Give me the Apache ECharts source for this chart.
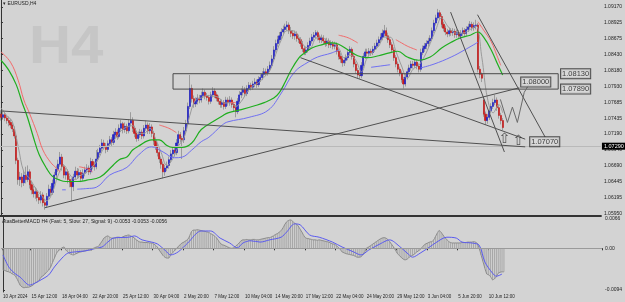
<!DOCTYPE html>
<html>
<head>
<meta charset="utf-8">
<script src="https://cdn.jsdelivr.net/npm/echarts@6/dist/echarts.min.js"></script>
<style>
html,body{margin:0;padding:0;background:#d3d3d3;}
#chart{width:625px;height:302px;}
</style>
</head>
<body>
<div id="chart"></div>
<script>
// bar slots on the time axis (last ~50 are the empty chart shift)
var SLOTS = 315;

var dateTickIdx = [0, 15, 31, 47, 63, 79, 95, 111, 127, 143, 159, 175, 191, 207, 223, 239, 255];
var dateTickText = ['10 Apr 2024', '15 Apr 12:00', '18 Apr 04:00', '22 Apr 20:00', '25 Apr 12:00', '30 Apr 04:00',
  '2 May 20:00', '7 May 12:00', '10 May 04:00', '14 May 20:00', '17 May 12:00', '22 May 04:00',
  '24 May 20:00', '29 May 12:00', '3 Jun 04:00', '5 Jun 20:00', '10 Jun 12:00'];

var priceTicks = [1.09170, 1.08925, 1.08675, 1.08430, 1.08180, 1.07930, 1.07685, 1.07435, 1.07190,
  1.06940, 1.06690, 1.06445, 1.06195, 1.05950];
var macdTicks = [0.0066, 0, -0.0094];
var macdTickText = ['0.0066', '0.00', '-0.0094'];
var lastPrice = 1.07290;

// H4 candles, one row per trading day (6 bars)
var firstOpen = 1.0750;
var gapOpens = {253: 1.0772};
var closes = [
1.0745,1.0749,1.0744,1.0740,1.0737,1.0733,
1.0727,1.0716,1.0678,1.0648,1.0652,1.0643,
1.0655,1.0648,1.0660,1.0640,1.0632,1.0626,
1.0629,1.0620,1.0616,1.0624,1.0612,1.0608,
1.0622,1.0633,1.0628,1.0642,1.0655,1.0664,
1.0672,1.0683,1.0668,1.0655,1.0660,1.0648,
1.0644,1.0637,1.0652,1.0661,1.0655,1.0659,
1.0650,1.0658,1.0663,1.0666,1.0660,1.0676,
1.0670,1.0668,1.0680,1.0690,1.0697,1.0705,
1.0700,1.0695,1.0704,1.0710,1.0706,1.0718,
1.0722,1.0715,1.0728,1.0735,1.0726,1.0731,
1.0724,1.0736,1.0740,1.0728,1.0720,1.0712,
1.0718,1.0722,1.0716,1.0728,1.0733,1.0724,
1.0730,1.0720,1.0708,1.0700,1.0690,1.0680,
1.0672,1.0660,1.0666,1.0670,1.0679,1.0688,
1.0694,1.0690,1.0705,1.0718,1.0712,1.0710,
1.0724,1.0735,1.0762,1.0790,1.0774,1.0766,
1.0770,1.0775,1.0772,1.0779,1.0784,1.0778,
1.0776,1.0770,1.0780,1.0786,1.0780,1.0775,
1.0770,1.0765,1.0768,1.0762,1.0772,1.0768,
1.0772,1.0765,1.0760,1.0754,1.0770,1.0780,
1.0784,1.0788,1.0782,1.0790,1.0795,1.0792,
1.0797,1.0800,1.0796,1.0804,1.0807,1.0812,
1.0816,1.0814,1.0820,1.0826,1.0836,1.0850,
1.0860,1.0866,1.0872,1.0878,1.0882,1.0886,
1.0889,1.0880,1.0876,1.0872,1.0875,1.0868,
1.0866,1.0860,1.0852,1.0846,1.0850,1.0857,
1.0864,1.0870,1.0873,1.0877,1.0870,1.0866,
1.0869,1.0864,1.0860,1.0864,1.0858,1.0860,
1.0856,1.0858,1.0848,1.0840,1.0836,1.0830,
1.0834,1.0838,1.0846,1.0851,1.0840,1.0828,
1.0818,1.0811,1.0810,1.0826,1.0840,1.0847,
1.0845,1.0848,1.0846,1.0851,1.0856,1.0861,
1.0866,1.0870,1.0876,1.0880,1.0872,1.0866,
1.0858,1.0850,1.0838,1.0828,1.0820,1.0814,
1.0804,1.0797,1.0808,1.0816,1.0822,1.0828,
1.0826,1.0831,1.0825,1.0820,1.0846,1.0852,
1.0856,1.0860,1.0864,1.0868,1.0880,1.0892,
1.0900,1.0908,1.0902,1.0890,1.0884,1.0878,
1.0875,1.0880,1.0877,1.0879,1.0874,1.0877,
1.0872,1.0876,1.0880,1.0876,1.0882,1.0886,
1.0890,1.0885,1.0888,1.0889,1.0820,1.0812,
1.0806,1.0750,1.0740,1.0745,1.0755,1.0762,
1.0768,1.0772,1.0760,1.0748,1.0740,1.0729
];
var highs = [
1.0756,1.0755,1.0753,1.0748,1.0746,1.0743,
1.0738,1.0731,1.0720,1.0682,1.0660,1.0658,
1.0662,1.0668,1.0670,1.0664,1.0645,1.0638,
1.0636,1.0634,1.0626,1.0630,1.0628,1.0618,
1.0627,1.0640,1.0638,1.0648,1.0660,1.0670,
1.0679,1.0691,1.0688,1.0672,1.0666,1.0664,
1.0654,1.0650,1.0657,1.0668,1.0666,1.0665,
1.0663,1.0664,1.0668,1.0672,1.0670,1.0682,
1.0680,1.0676,1.0694,1.0696,1.0702,1.0711,
1.0710,1.0705,1.0709,1.0716,1.0714,1.0724,
1.0728,1.0726,1.0734,1.0741,1.0738,1.0737,
1.0735,1.0742,1.0753,1.0745,1.0732,1.0724,
1.0723,1.0727,1.0726,1.0733,1.0740,1.0737,
1.0736,1.0734,1.0724,1.0712,1.0704,1.0694,
1.0684,1.0676,1.0671,1.0676,1.0684,1.0694,
1.0700,1.0700,1.0711,1.0724,1.0722,1.0716,
1.0730,1.0741,1.0768,1.0811,1.0796,1.0779,
1.0776,1.0781,1.0780,1.0785,1.0790,1.0788,
1.0783,1.0780,1.0785,1.0792,1.0790,1.0784,
1.0779,1.0774,1.0773,1.0772,1.0777,1.0776,
1.0778,1.0776,1.0769,1.0764,1.0775,1.0786,
1.0790,1.0794,1.0792,1.0795,1.0800,1.0799,
1.0802,1.0806,1.0804,1.0809,1.0812,1.0817,
1.0822,1.0821,1.0825,1.0832,1.0842,1.0856,
1.0866,1.0872,1.0878,1.0884,1.0888,1.0891,
1.0895,1.0893,1.0886,1.0881,1.0880,1.0879,
1.0874,1.0870,1.0864,1.0856,1.0855,1.0862,
1.0869,1.0875,1.0878,1.0881,1.0880,1.0874,
1.0874,1.0873,1.0868,1.0869,1.0868,1.0865,
1.0864,1.0863,1.0862,1.0852,1.0845,1.0840,
1.0839,1.0843,1.0851,1.0856,1.0854,1.0844,
1.0832,1.0822,1.0816,1.0831,1.0845,1.0852,
1.0852,1.0853,1.0852,1.0856,1.0861,1.0866,
1.0871,1.0876,1.0882,1.0889,1.0885,1.0877,
1.0870,1.0862,1.0854,1.0842,1.0832,1.0824,
1.0818,1.0808,1.0813,1.0821,1.0827,1.0833,
1.0833,1.0836,1.0835,1.0829,1.0852,1.0857,
1.0861,1.0865,1.0869,1.0873,1.0885,1.0897,
1.0905,1.0914,1.0912,1.0906,1.0894,1.0888,
1.0883,1.0885,1.0884,1.0884,1.0883,1.0882,
1.0881,1.0881,1.0885,1.0884,1.0887,1.0891,
1.0895,1.0894,1.0893,1.0897,1.0892,1.0825,
1.0815,1.0776,1.0754,1.0750,1.0760,1.0767,
1.0774,1.0780,1.0776,1.0764,1.0752,1.0744
];
var lows = [
1.0740,1.0741,1.0739,1.0735,1.0731,1.0728,
1.0722,1.0712,1.0672,1.0640,1.0638,1.0636,
1.0638,1.0642,1.0644,1.0634,1.0625,1.0620,
1.0618,1.0614,1.0610,1.0611,1.0606,1.0601,
1.0604,1.0618,1.0622,1.0624,1.0638,1.0650,
1.0660,1.0668,1.0662,1.0650,1.0648,1.0642,
1.0636,1.0614,1.0630,1.0648,1.0650,1.0650,
1.0644,1.0646,1.0653,1.0658,1.0655,1.0656,
1.0664,1.0662,1.0664,1.0676,1.0686,1.0692,
1.0695,1.0689,1.0691,1.0700,1.0700,1.0702,
1.0713,1.0710,1.0712,1.0724,1.0720,1.0721,
1.0719,1.0720,1.0731,1.0722,1.0714,1.0707,
1.0708,1.0713,1.0711,1.0712,1.0724,1.0719,
1.0719,1.0714,1.0702,1.0694,1.0684,1.0674,
1.0665,1.0650,1.0654,1.0661,1.0665,1.0674,
1.0683,1.0684,1.0686,1.0700,1.0706,1.0680,
1.0705,1.0720,1.0731,1.0758,1.0768,1.0760,
1.0761,1.0765,1.0767,1.0768,1.0775,1.0773,
1.0771,1.0765,1.0766,1.0776,1.0775,1.0770,
1.0765,1.0760,1.0760,1.0757,1.0758,1.0763,
1.0763,1.0760,1.0754,1.0745,1.0750,1.0766,
1.0775,1.0779,1.0777,1.0778,1.0785,1.0787,
1.0788,1.0792,1.0791,1.0792,1.0800,1.0803,
1.0808,1.0809,1.0810,1.0816,1.0822,1.0832,
1.0846,1.0855,1.0861,1.0867,1.0873,1.0877,
1.0880,1.0875,1.0870,1.0867,1.0866,1.0863,
1.0861,1.0855,1.0847,1.0842,1.0842,1.0846,
1.0853,1.0860,1.0865,1.0868,1.0865,1.0861,
1.0861,1.0859,1.0855,1.0856,1.0853,1.0853,
1.0851,1.0851,1.0843,1.0835,1.0830,1.0824,
1.0825,1.0829,1.0834,1.0842,1.0835,1.0823,
1.0813,1.0806,1.0805,1.0806,1.0822,1.0836,
1.0840,1.0840,1.0841,1.0842,1.0847,1.0851,
1.0856,1.0861,1.0865,1.0871,1.0867,1.0861,
1.0853,1.0845,1.0833,1.0823,1.0815,1.0809,
1.0799,1.0790,1.0793,1.0804,1.0812,1.0818,
1.0821,1.0822,1.0820,1.0815,1.0816,1.0842,
1.0847,1.0851,1.0855,1.0859,1.0864,1.0876,
1.0888,1.0896,1.0897,1.0885,1.0879,1.0873,
1.0870,1.0871,1.0872,1.0872,1.0869,1.0869,
1.0867,1.0868,1.0872,1.0871,1.0872,1.0878,
1.0882,1.0880,1.0880,1.0882,1.0815,1.0806,
1.0800,1.0746,1.0733,1.0735,1.0741,1.0751,
1.0758,1.0764,1.0755,1.0743,1.0734,1.0725
];

// indicator lines as [bar, price] points
var greenMA = [[0,1.0834],[4,1.0819],[8,1.0796],[11,1.0769],[14,1.0744],[17,1.0714],[20,1.0687],[24,1.0665],
  [27,1.0653],[31,1.0647],[34,1.0645],[40,1.0645],[45,1.0647],[52,1.0652],[58,1.0668],[62,1.0679],[66,1.0683],
  [69,1.0694],[72,1.0700],[79,1.0710],[83,1.0710],[87,1.0701],[90,1.0698],[95,1.0698],[100,1.0705],[105,1.0726],
  [111,1.0738],[116,1.0747],[119,1.0752],[126,1.0757],[133,1.0763],[138,1.0768],[143,1.0775],[146,1.0784],
  [149,1.0800],[152,1.0818],[156,1.0837],[159,1.0845],[163,1.0853],[168,1.0858],[173,1.0861],[177,1.0859],
  [182,1.0850],[187,1.0841],[192,1.0838],[198,1.0841],[203,1.0845],[208,1.0848],[213,1.0839],[219,1.0834],
  [225,1.0839],[231,1.0853],[236,1.0862],[241,1.0869],[246,1.0873],[250,1.0878],[253,1.0870],[257,1.0850],
  [260,1.0830],[263,1.0811]];
var redMA = [
  [[0,1.0847],[5,1.0831],[9,1.0803],[12,1.0772],[15,1.0751],[19,1.0720],[22,1.0694],[26,1.0675],[29,1.0666],[31,1.0660]],
  [[41,1.0668],[45,1.0665],[48,1.0660]],
  [[83,1.0733],[88,1.0728],[92,1.0721]],
  [[120,1.0768],[123,1.0768]],
  [[177,1.0873],[182,1.0869],[187,1.0861]],
  [[207,1.0866],[210,1.0861],[213,1.0856],[218,1.0850]],
  [[250,1.0894],[253,1.0881],[257,1.0863],[260,1.0841],[262,1.0826]]
];
var blueMA = [
  [[32,1.0632],[34,1.0632]],
  [[40,1.0633],[45,1.0634],[50,1.0636],[57,1.0655],[66,1.0667],[72,1.0686],[79,1.0699],[85,1.0691],[91,1.0682],
   [95,1.0683],[100,1.0694],[105,1.0707],[109,1.0714],[116,1.0733],[119,1.0738],[130,1.0745],[140,1.0756],
   [147,1.0783],[154,1.0816],[161,1.0831],[166,1.0839],[173,1.0845],[177,1.0850]],
  [[194,1.0823],[204,1.0827]],
  [[220,1.0822],[227,1.0828],[236,1.0839],[243,1.0850],[250,1.0862]]
];
var fastLine = [[0,1.0760],[3,1.0748],[6,1.0738],[9,1.0700],[12,1.0660],[15,1.0650],[18,1.0635],[21,1.0624],
  [24,1.0615],[27,1.0628],[30,1.0655],[33,1.0670],[36,1.0656],[39,1.0648],[42,1.0655],[45,1.0660],[48,1.0668],
  [51,1.0680],[54,1.0697],[57,1.0702],[60,1.0712],[63,1.0724],[66,1.0730],[69,1.0732],[72,1.0720],[75,1.0720],
  [78,1.0728],[81,1.0712],[84,1.0690],[87,1.0670],[90,1.0680],[93,1.0700],[96,1.0713],[99,1.0748],[102,1.0772],
  [105,1.0775],[108,1.0779],[111,1.0778],[114,1.0776],[117,1.0767],[120,1.0768],[123,1.0762],[126,1.0770],
  [129,1.0784],[132,1.0794],[135,1.0799],[138,1.0808],[141,1.0818],[144,1.0843],[147,1.0866],[150,1.0880],
  [153,1.0880],[156,1.0871],[159,1.0856],[162,1.0853],[165,1.0868],[168,1.0870],[171,1.0864],[174,1.0860],
  [177,1.0853],[180,1.0838],[183,1.0842],[186,1.0834],[189,1.0816],[192,1.0838],[195,1.0847],[198,1.0856],
  [201,1.0870],[204,1.0870],[207,1.0848],[210,1.0825],[213,1.0806],[216,1.0820],[219,1.0826],[222,1.0840],
  [225,1.0860],[228,1.0882],[231,1.0900],[234,1.0888],[237,1.0878],[240,1.0876],[243,1.0877],[246,1.0882],
  [249,1.0887],[252,1.0840],[255,1.0775],[258,1.0752],[261,1.0765],[263,1.0752]];

// drawn objects: trend lines, zone, projection
var trendLines = [
  [[0,1.0755],[274.8,1.0699]],
  [[22.9,1.0604],[271.7,1.0791]],
  [[157.0,1.0838],[274.8,1.0711]],
  [[235.7,1.0909],[263.9,1.0691]],
  [[249.8,1.0905],[285.3,1.0714]]
];
var zoneTop = 1.0813, zoneBottom = 1.0789, zoneFrom = 90.2, zoneTo = 292.1;
var projection = [[261.8,1.0773],[265.5,1.0737],[268.1,1.0761],[270.7,1.0737],[274.3,1.0784],[277.5,1.0800]];
var levelBoxes = [
  {at: [293.6, 1.0813], text: '1.08130'},
  {at: [293.6, 1.0789], text: '1.07890'},
  {at: [272.7, 1.0800], text: '1.08000'},
  {at: [277.4, 1.0707], text: '1.07070'}
];
var arrowMarks = [[263.9, 1.0711], [271.2, 1.0708]];

// MACD main per bar (drawn as histogram + grey line) and signal points
var macd = [
-0.0049,-0.0050,-0.0052,-0.0053,-0.0055,-0.0058,
-0.0060,-0.0066,-0.0074,-0.0083,-0.0087,-0.0089,
-0.0088,-0.0088,-0.0087,-0.0085,-0.0082,-0.0078,
-0.0076,-0.0072,-0.0065,-0.0062,-0.0058,-0.0053,
-0.0049,-0.0042,-0.0032,-0.0022,-0.0012,-0.0006,
-0.0002,0.0001,0.0003,-0.0004,-0.0008,-0.0012,
-0.0014,-0.0015,-0.0013,-0.0011,-0.0009,-0.0008,
-0.0007,-0.0006,-0.0005,-0.0004,-0.0004,-0.0001,
0.0001,0.0003,0.0004,0.0010,0.0016,0.0023,
0.0026,0.0028,0.0025,0.0023,0.0023,0.0024,
0.0025,0.0025,0.0024,0.0026,0.0028,0.0029,
0.0030,0.0028,0.0026,0.0023,0.0019,0.0016,
0.0014,0.0014,0.0013,0.0013,0.0013,0.0012,
0.0012,0.0010,0.0007,0.0003,-0.0004,-0.0010,
-0.0016,-0.0020,-0.0022,-0.0022,-0.0015,-0.0010,
-0.0006,-0.0001,0.0004,0.0008,0.0012,0.0014,
0.0017,0.0020,0.0028,0.0038,0.0041,0.0041,
0.0042,0.0041,0.0040,0.0039,0.0038,0.0037,
0.0036,0.0033,0.0031,0.0028,0.0024,0.0018,
0.0012,0.0008,0.0007,0.0005,0.0003,0.0001,
0.0000,0.0001,0.0004,0.0008,0.0012,0.0017,
0.0019,0.0019,0.0020,0.0019,0.0019,0.0020,
0.0020,0.0019,0.0019,0.0020,0.0021,0.0022,
0.0023,0.0024,0.0024,0.0026,0.0028,0.0031,
0.0033,0.0036,0.0040,0.0046,0.0054,0.0060,
0.0063,0.0064,0.0061,0.0057,0.0055,0.0050,
0.0043,0.0036,0.0028,0.0023,0.0022,0.0021,
0.0020,0.0019,0.0019,0.0018,0.0019,0.0018,
0.0017,0.0016,0.0015,0.0014,0.0012,0.0010,
0.0009,0.0006,0.0002,-0.0002,-0.0008,-0.0010,
-0.0012,-0.0013,-0.0014,-0.0015,-0.0016,-0.0018,
-0.0020,-0.0020,-0.0019,-0.0014,-0.0007,0.0001,
0.0003,0.0006,0.0009,0.0012,0.0015,0.0018,
0.0021,0.0023,0.0024,0.0023,0.0020,0.0015,
0.0009,0.0003,-0.0004,-0.0011,-0.0016,-0.0020,
-0.0024,-0.0026,-0.0025,-0.0021,-0.0018,-0.0016,
-0.0013,-0.0009,-0.0006,-0.0003,0.0002,0.0007,
0.0010,0.0012,0.0014,0.0015,0.0018,0.0026,
0.0034,0.0040,0.0036,0.0030,0.0024,0.0020,
0.0015,0.0013,0.0012,0.0012,0.0012,0.0012,
0.0012,0.0013,0.0013,0.0013,0.0014,0.0014,
0.0014,0.0015,0.0014,0.0011,0.0000,-0.0015,
-0.0030,-0.0045,-0.0058,-0.0060,-0.0064,-0.0071,
-0.0069,-0.0064,-0.0056,-0.0054,-0.0053,-0.0053
];
var signal = [[0,-0.0015],[3,-0.0042],[6,-0.0056],[9,-0.0065],[14,-0.0083],[17,-0.0078],[20,-0.0071],
  [24,-0.0060],[27,-0.0042],[31,-0.0022],[34,-0.0011],[38,-0.0008],[43,-0.0006],[48,-0.0001],[52,0.0003],
  [55,0.0014],[58,0.0023],[66,0.0025],[69,0.0028],[73,0.0019],[78,0.0014],[81,0.0010],[85,-0.0004],
  [88,-0.0015],[92,-0.0008],[97,0.0012],[104,0.0039],[109,0.0039],[114,0.0023],[119,0.0012],[123,0.0001],
  [126,0.0012],[130,0.0017],[135,0.0014],[140,0.0019],[146,0.0025],[149,0.0037],[153,0.0055],[156,0.0053],
  [161,0.0030],[166,0.0025],[173,0.0014],[178,0.0003],[184,-0.0008],[188,-0.0015],[192,-0.0004],[198,0.0010],
  [203,0.0019],[208,0.0005],[213,-0.0014],[215,-0.0020],[219,-0.0011],[224,0.0003],[227,0.0012],[233,0.0025],
  [238,0.0023],[241,0.0014],[246,0.0012],[250,0.0007],[253,-0.0031],[257,-0.0056],[259,-0.0063],[262,-0.0058]];

var chart = echarts.init(document.getElementById('chart'));

var slotCats = [];
for (var i = 0; i < SLOTS; i++) slotCats.push(String(i));
var dateText = {};
dateTickIdx.forEach(function (k, j) { dateText[k] = dateTickText[j]; });
var isDateTick = function (idx) { return dateText[idx] !== undefined; };

var opens = closes.map(function (c, i) {
  return i === 0 ? firstOpen : (gapOpens[i] !== undefined ? gapOpens[i] : closes[i - 1]);
});
// full bars for the grey wicks, body-only bars for the coloured bodies
var wickBars = closes.map(function (c, i) { return [opens[i], c, lows[i], highs[i]]; });
var bodyBars = closes.map(function (c, i) {
  return [opens[i], c, Math.min(opens[i], c), Math.max(opens[i], c)];
});

var axisFont = {fontSize: 5, color: '#1e1e1e', fontFamily: 'Liberation Sans'};

function lineSeries(data, color, width, xi, yi, smooth, z) {
  return {
    type: 'line', data: data, xAxisIndex: xi, yAxisIndex: yi, symbol: 'none', silent: true,
    smooth: smooth, z: z || 4, lineStyle: {color: color, width: width}
  };
}

var series = [];
series.push({
  type: 'candlestick', data: wickBars, xAxisIndex: 0, yAxisIndex: 0, barWidth: 0.6, z: 2,
  itemStyle: {color: '#8e8e8e', color0: '#8e8e8e', borderColor: '#8e8e8e', borderColor0: '#8e8e8e', borderWidth: 0.8},
  markLine: {
    silent: true, symbol: 'none', animation: false,
    lineStyle: {color: '#b9b9b9', width: 1, type: 'solid'},
    label: {position: 'end', distance: 1, formatter: lastPrice.toFixed(5), color: '#fff', backgroundColor: '#000',
      fontSize: 5.5, fontFamily: 'Liberation Sans', padding: [1, 2, 0, 2]},
    data: [{yAxis: lastPrice}]
  }
});
series.push({
  type: 'candlestick', data: bodyBars, xAxisIndex: 0, yAxisIndex: 0, barWidth: 1.6, z: 3,
  itemStyle: {color: '#2424c4', color0: '#c41e1e', borderColor: '#2424c4', borderColor0: '#c41e1e', borderWidth: 0.7}
});
series.push(lineSeries(fastLine, '#9a9a9a', 1, 1, 0, 0.4, 4));
series.push(lineSeries(greenMA, '#1fae1f', 1.2, 1, 0, 0.4, 5));
redMA.forEach(function (seg) { series.push(lineSeries(seg, '#f26a6a', 1, 1, 0, 0.4, 5)); });
blueMA.forEach(function (seg) { series.push(lineSeries(seg, '#6f6ff2', 1, 1, 0, 0.4, 5)); });
trendLines.forEach(function (seg) { series.push(lineSeries(seg, '#505050', 1, 1, 0, false, 6)); });
series.push(lineSeries([[zoneFrom, zoneTop], [zoneTo, zoneTop], [zoneTo, zoneBottom], [zoneFrom, zoneBottom], [zoneFrom, zoneTop]],
  '#4a4a4a', 1, 1, 0, false, 6));
series.push(lineSeries(projection, '#6a6a6a', 1, 1, 0, false, 6));

series.push({
  type: 'scatter', xAxisIndex: 1, yAxisIndex: 0, symbolSize: 0, silent: true, z: 7,
  data: levelBoxes.map(function (b) {
    return {value: b.at, label: {formatter: b.text}};
  }),
  label: {show: true, position: 'right', distance: 0, fontSize: 7.5, color: '#111', fontFamily: 'Liberation Sans',
    backgroundColor: '#d9d9d9', borderColor: '#2a2a2a', borderWidth: 1, padding: [1, 1, 0, 1]}
});
series.push({
  type: 'scatter', xAxisIndex: 1, yAxisIndex: 0, symbolSize: 0, silent: true, z: 7,
  data: arrowMarks,
  label: {show: true, position: 'inside', formatter: '\u21e7', fontSize: 14, color: '#333', fontFamily: 'DejaVu Sans'}
});

// MACD panel
series.push({
  type: 'bar', data: macd, xAxisIndex: 2, yAxisIndex: 1, barWidth: 1, silent: true,
  itemStyle: {color: '#a6a6a6'},
  markLine: {silent: true, symbol: 'none', label: {show: false}, lineStyle: {color: '#9a9a9a', width: 1, type: 'solid'},
    data: [{yAxis: 0}]}
});
series.push({
  type: 'line', data: macd, xAxisIndex: 2, yAxisIndex: 1, symbol: 'none', smooth: 0.3, silent: true,
  lineStyle: {color: '#8c8c8c', width: 1}
});
series.push(lineSeries(signal, '#5a5af0', 1, 3, 1, 0.3, 4));

var option = {
  backgroundColor: '#d3d3d3',
  animation: false,
  graphic: [
    {type: 'text', left: 29, top: 22, z: -10, silent: true, scaleX: 1.1,
      style: {text: 'H4', fill: '#c6c6c6', font: 'bold 53px "Liberation Sans"'}},
    {type: 'text', left: 3, top: 1, silent: true,
      style: {text: '\u25be EURUSD,H4', fill: '#222', fontSize: 5, fontFamily: 'Liberation Sans'}},
    {type: 'text', left: 2, top: 219, silent: true,
      style: {text: 'AtasBetterMACD H4 (Fast: 5, Slow: 27, Signal: 9) -0.0053 -0.0053 -0.0056', fill: '#222', fontSize: 5, fontFamily: 'Liberation Sans'}}
  ],
  grid: [
    {left: 0, right: 21, top: 0, height: 216},
    {left: 0, right: 21, top: 217, height: 75}
  ],
  xAxis: [
    {type: 'category', gridIndex: 0, data: slotCats, boundaryGap: true,
      axisLine: {show: true, lineStyle: {color: '#333', width: 2}}, axisTick: {show: false}, axisLabel: {show: false}},
    {type: 'value', gridIndex: 0, min: -0.5, max: SLOTS - 0.5, show: false},
    {type: 'category', gridIndex: 1, data: slotCats, boundaryGap: true,
      axisLine: {show: true, lineStyle: {color: '#333', width: 1}},
      axisTick: {show: true, interval: isDateTick, length: 2, lineStyle: {color: '#333'}},
      axisLabel: {interval: isDateTick, align: 'left', margin: 2, showMinLabel: true,
        fontSize: 4.5, color: '#1e1e1e', fontFamily: 'Liberation Sans',
        formatter: function (v, idx) { return dateText[idx] || ''; }}},
    {type: 'value', gridIndex: 1, min: -0.5, max: SLOTS - 0.5, show: false}
  ],
  yAxis: [
    {type: 'value', gridIndex: 0, position: 'right', min: 1.05912, max: 1.09279, scale: true,
      axisLine: {show: true, lineStyle: {color: '#333'}},
      axisTick: {show: true, customValues: priceTicks, length: 2, lineStyle: {color: '#333'}},
      axisLabel: Object.assign({customValues: priceTicks, margin: 3,
        formatter: function (v) { return v.toFixed(5); }}, axisFont),
      splitLine: {show: false}},
    {type: 'value', gridIndex: 1, position: 'right', min: -0.009849, max: 0.007054,
      axisLine: {show: true, lineStyle: {color: '#333'}},
      axisTick: {show: true, customValues: macdTicks, length: 2, lineStyle: {color: '#333'}},
      axisLabel: Object.assign({customValues: macdTicks, margin: 3,
        formatter: function (v) {
          var k = macdTicks.findIndex(function (t) { return Math.abs(t - v) < 1e-7; });
          return k >= 0 ? macdTickText[k] : '';
        }}, axisFont),
      splitLine: {show: false}}
  ],
  series: series
};
chart.setOption(option);
</script>
</body>
</html>
